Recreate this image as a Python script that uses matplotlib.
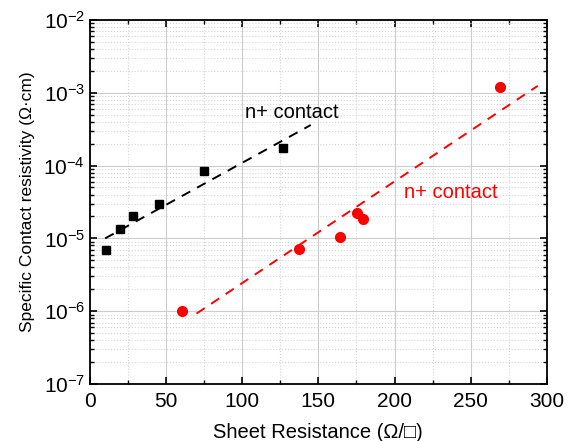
import numpy as np
import matplotlib
matplotlib.use("Agg")
import matplotlib.pyplot as plt
from matplotlib.ticker import LogLocator, MultipleLocator, NullFormatter

plt.rcParams['font.family'] = ['Liberation Sans', 'DejaVu Sans']
plt.rcParams['mathtext.fontset'] = 'custom'
plt.rcParams['mathtext.rm'] = 'Liberation Sans'

# black (first) n+ contact data
rs_black = [10.5, 19.7, 28.4, 45.5, 75.0, 126.5]
rho_black = [6.9e-6, 1.33e-5, 2.0e-5, 2.93e-5, 8.3e-5, 1.76e-4]
fit_black_x = [10, 145]
fit_black_y = [1.0e-5, 3.6e-4]

# red (second) n+ contact data
rs_red = [60.2, 137.2, 164.1, 175.1, 179.0, 269.2]
rho_red = [1.0e-6, 7.1e-6, 1.06e-5, 2.25e-5, 1.85e-5, 1.19e-3]
fit_red_x = [70, 294]
fit_red_y = [9.3e-7, 1.24e-3]

def exp_line(xs, ys, n=50):
    x = np.linspace(xs[0], xs[1], n)
    ly = np.interp(x, xs, np.log10(ys))
    return x, 10**ly

fig = plt.figure(figsize=(5.69, 4.41), dpi=100)
ax = fig.add_axes([0.158, 0.129, 0.803, 0.826])

ax.set_yscale('log')
ax.set_xlim(0, 300)
ax.set_ylim(1e-7, 1e-2)

ax.xaxis.set_major_locator(MultipleLocator(50))
ax.xaxis.set_minor_locator(MultipleLocator(25))
ax.yaxis.set_major_locator(LogLocator(base=10, numticks=10))
ax.yaxis.set_minor_locator(LogLocator(base=10, subs=np.arange(2, 10), numticks=10))
ax.yaxis.set_minor_formatter(NullFormatter())

ax.grid(which='major', color='#cccccc', linestyle='-', linewidth=0.8)
ax.grid(which='minor', color='#d6d6d6', linestyle=':', linewidth=0.8)
ax.set_axisbelow(True)

ax.tick_params(which='both', direction='in', top=True, right=True)
ax.tick_params(which='major', length=5, width=1.2, labelsize=15)
ax.tick_params(which='minor', length=3, width=1)
ax.tick_params(axis='x', pad=6)
for s in ax.spines.values():
    s.set_linewidth(1.3)

x, y = exp_line(fit_black_x, fit_black_y)
ax.plot(x, y, color='black', linestyle=(0, (5, 4)), linewidth=1.4)
x, y = exp_line(fit_red_x, fit_red_y)
ax.plot(x, y, color='red', linestyle=(0, (5, 4)), linewidth=1.4)

ax.plot(rs_black, rho_black, 's', color='black', markersize=6)
ax.plot(rs_red, rho_red, 'o', color='red', markersize=7)

ax.text(102, 5.4e-4, 'n+ contact', color='black', fontsize=14.5, va='center')
ax.text(206, 4.2e-5, 'n+ contact', color='red', fontsize=14.5, va='center')

ax.set_xlabel('Sheet Resistance (Ω/□)', fontsize=14.5, labelpad=8)
ax.set_ylabel('Specific Contact resistivity (Ω·cm)', fontsize=12.5, labelpad=6)

fig.savefig('out.png', dpi=100)
